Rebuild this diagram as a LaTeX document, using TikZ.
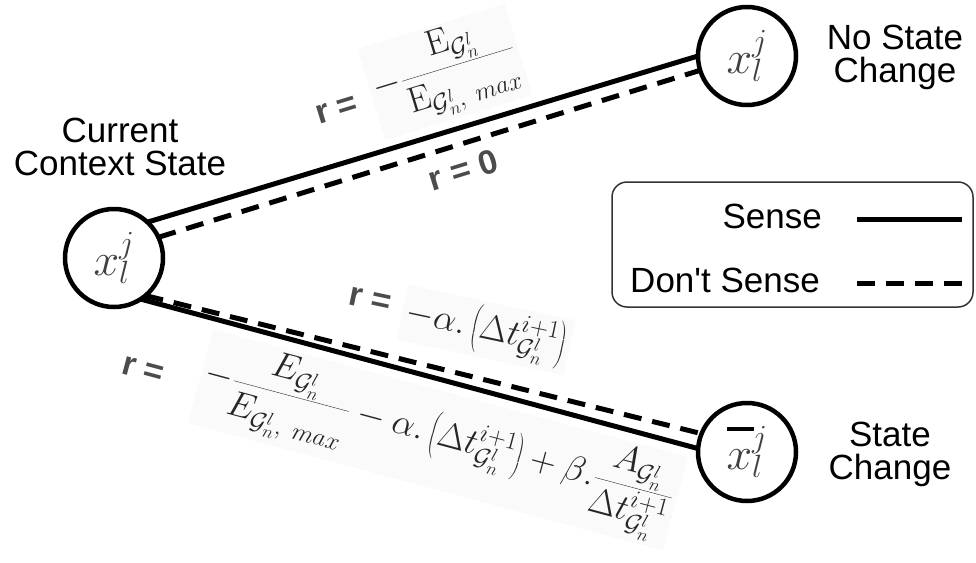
\RequirePackage{fix-cm}
\documentclass[tikz,border=0pt]{standalone}
\usepackage[no-math]{fontspec}
\newfontfamily\labfont{Liberation Sans}
\begin{document}
\begin{tikzpicture}[x=1pt,y=1pt,
  state/.style={circle, draw, fill=white, line width=4.5pt, minimum size=98pt, inner sep=0pt, outer sep=0pt, font=\fontsize{46}{50}\selectfont, text=black!75},
  lbl/.style={font=\labfont\fontsize{35}{33}\selectfont, align=center, inner sep=0pt},
  req/.style={font=\labfont\bfseries\fontsize{34}{36}\selectfont, text=black!70, inner sep=0pt},
  frm/.style={font=\fontsize{36}{40}\selectfont, text=black!85, fill=black!2, inner sep=4pt},
  sense/.style={line width=5pt},
  nosense/.style={line width=5pt, dash pattern=on 18pt off 11pt},
  negbar/.style={line width=4.5pt},
  legbox/.style={draw=black!80, line width=1.5pt, rounded corners=15pt, minimum width=361pt, minimum height=125pt, inner sep=0pt},
  legtxt/.style={font=\labfont\fontsize{35}{36}\selectfont, inner sep=0pt, anchor=base east}
]
\useasboundingbox (0,0) rectangle (976,-562);

% states
\node[state] (L) at (114,-258) {$x_l^j$};
\node[state] (T) at (747,-56) {$x_l^j$};
\node[state] (B) at (747,-452) {$x_l^j$};
\coordinate (bar1) at ([shift={(-20,23)}]B.center);
\coordinate (bar2) at ([shift={(7,23)}]B.center);
\draw[negbar] (bar1) -- (bar2);

% connectors
\draw[sense] (L.47) -- (T.180);
\draw[nosense] (L.25) -- (T.197);
\draw[sense] (L.-57) -- (B.176);
\draw[nosense] (L.-50) -- (B.158);

% state labels
\node[lbl] (curlab) at (120,-147) {Current\\Context State};
\node[lbl] (nolab) at (895,-57) {No State\\Change};
\node[lbl] (chlab) at (890,-454) {State\\Change};

% reward formulas
\node[req, rotate=17] (r1) at (337,-110) {r =};
\node[frm, rotate=17] (f1) at (445,-72) {$\displaystyle -\frac{\mathrm{E}_{\mathcal{G}_n^l}}{\mathrm{E}_{\mathcal{G}_n^l,\ max}}$};
\node[req, rotate=17] (r0) at (463,-170) {r = 0};
\node[req, rotate=-12] (r2) at (370,-300) {r =};
\node[frm, rotate=-12] (f2) at (486,-330) {$\displaystyle -\alpha.\left(\Delta t^{i+1}_{\mathcal{G}_n^l}\right)$};
\node[req, rotate=-15] (r3) at (143,-370) {r =};
\node[frm, rotate=-15] (f3) at (438,-440) {$\displaystyle -\frac{E_{\mathcal{G}_n^l}}{E_{\mathcal{G}_n^l,\ max}} - \alpha.\left(\Delta t^{i+1}_{\mathcal{G}_n^l}\right) + \beta.\frac{A_{\mathcal{G}_n^l}}{\Delta t^{i+1}_{\mathcal{G}_n^l}}$};

% legend
\node[legbox] (leg) at (792.5,-244.5) {};
\node[legtxt] (lsense) at (822,-228) {Sense};
\node[legtxt] (lnosense) at (820,-292) {Don't Sense};
\coordinate (s1) at (857,-219);
\coordinate (s2) at (962,-219);
\coordinate (d1) at (857,-283);
\coordinate (d2) at (962,-283);
\draw[sense] (s1) -- (s2);
\draw[nosense] (d1) -- (d2);
\end{tikzpicture}
\end{document}
